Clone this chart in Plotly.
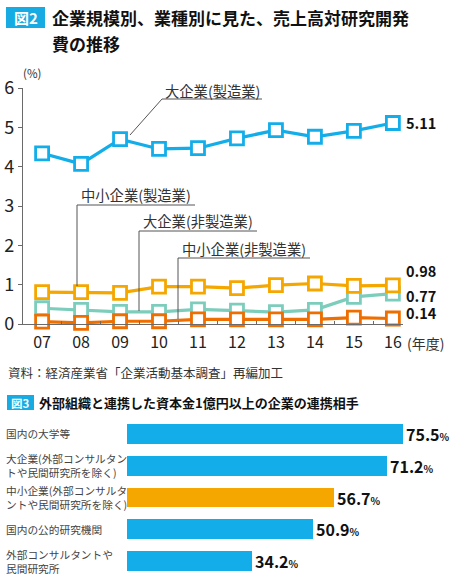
import plotly.graph_objects as go

W, H = 450, 579

# ---------------- data ----------------
years = [7, 8, 9, 10, 11, 12, 13, 14, 15, 16]
year_labels = ["07", "08", "09", "10", "11", "12", "13", "14", "15", "16"]
large_mfg = [4.34, 4.07, 4.70, 4.45, 4.47, 4.72, 4.93, 4.76, 4.91, 5.11]
sme_mfg = [0.81, 0.81, 0.79, 0.95, 0.95, 0.91, 0.99, 1.03, 0.97, 0.98]
large_nonmfg = [0.40, 0.36, 0.31, 0.31, 0.37, 0.34, 0.30, 0.36, 0.69, 0.77]
sme_nonmfg = [0.06, 0.03, 0.07, 0.07, 0.12, 0.12, 0.12, 0.12, 0.16, 0.14]
y_ticks = [0, 1, 2, 3, 4, 5, 6]

bar_cats = [
    "国内の大学等",
    "大企業(外部コンサルタン<br>トや民間研究所を除く)",
    "中小企業(外部コンサルタ<br>ントや民間研究所を除く)",
    "国内の公的研究機関",
    "外部コンサルタントや<br>民間研究所",
]
bar_vals = [75.5, 71.2, 56.7, 50.9, 34.2]

# ---------------- styles ----------------
BLUE = "#13AEEA"
YELLOW = "#F5A700"
TEAL = "#7DCDBC"
ORANGE = "#EE6E00"
AXIS = "#6a6a6a"
JP = "Noto Sans CJK JP"


def px(x):
    return x / W


def py(y):
    return 1 - y / H


fig = go.Figure()


def line_trace(vals, color, name):
    return go.Scatter(
        x=years, y=vals, mode="lines+markers", name=name,
        line=dict(color=color, width=3.2),
        marker=dict(symbol="square", size=13, color="white",
                    line=dict(color=color, width=2.8)),
        cliponaxis=False, xaxis="x", yaxis="y", showlegend=False,
    )


fig.add_trace(line_trace(large_nonmfg, TEAL, "大企業(非製造業)"))
fig.add_trace(line_trace(sme_mfg, YELLOW, "中小企業(製造業)"))
fig.add_trace(line_trace(sme_nonmfg, ORANGE, "中小企業(非製造業)"))
fig.add_trace(line_trace(large_mfg, BLUE, "大企業(製造業)"))

bar_colors = [BLUE, BLUE, YELLOW, BLUE, BLUE]
fig.add_trace(go.Bar(
    x=bar_vals, y=list(range(len(bar_vals))), orientation="h",
    width=0.62, marker=dict(color=bar_colors, line=dict(width=0)),
    text=[f"<b>{v:.1f}</b><span style='font-size:10px'><b>%</b></span>" for v in bar_vals],
    textposition="outside", textfont=dict(family=JP, size=16, color="#111"),
    cliponaxis=False, constraintext="none",
    xaxis="x2", yaxis="y2", showlegend=False,
))

annotations = []
shapes = []


def note(x, y, text, size, color="#333", xanchor="left", yref="paper"):
    annotations.append(dict(x=px(x), y=(py(y) if yref == "paper" else y),
                            xref="paper", yref=yref, xanchor=xanchor, yanchor="middle",
                            align="left", text=text, showarrow=False,
                            font=dict(family=JP, size=size, color=color)))


# header boxes
shapes.append(dict(type="rect", xref="paper", yref="paper",
                   x0=px(6), x1=px(45), y0=py(28), y1=py(7),
                   fillcolor="#16ABE3", line=dict(width=0)))
note(25.5, 17.5, "<b>図2</b>", 15, "white", xanchor="center")
note(50, 17, "<b>企業規模別、業種別に見た、売上高対研究開発</b>", 17, "#111")
note(50, 43, "<b>費の推移</b>", 17, "#111")

# units
note(21, 73, "(%)", 11.5)
note(405, 343, "(年度)", 14)

# series callout labels with leader lines
LEAD = "#555555"
callouts = [
    ("大企業(製造業)", 163, 90, [(162, 99, 262, 99), (162, 99, 130, 135)]),
    ("中小企業(製造業)", 79, 195, [(77, 205, 195, 205), (77, 205, 77, 286)]),
    ("大企業(非製造業)", 141, 221, [(139, 231, 257, 231), (139, 231, 139, 311)]),
    ("中小企業(非製造業)", 180, 248, [(178, 258, 310, 258), (178, 258, 178, 319)]),
]
for text, tx, ty, segs in callouts:
    note(tx, ty, text, 14.3)
    for x0, y0, x1, y1 in segs:
        shapes.append(dict(type="line", xref="paper", yref="paper",
                           x0=px(x0), y0=py(y0), x1=px(x1), y1=py(y1),
                           line=dict(color=LEAD, width=1)))

# end value labels
end_labels = [(large_mfg[-1], 123), (sme_mfg[-1], 270), (large_nonmfg[-1], 295), (sme_nonmfg[-1], 312)]
for v, yy in end_labels:
    note(404, yy, f"<b>{v:.2f}</b>", 14.5, "#111")

# source
note(6, 372, "資料：経済産業省「企業活動基本調査」再編加工", 12.5)

# figure 3 header
shapes.append(dict(type="rect", xref="paper", yref="paper",
                   x0=px(7), x1=px(34), y0=py(410), y1=py(395),
                   fillcolor="#16ABE3", line=dict(width=0)))
note(20.5, 402.5, "<b>図3</b>", 11.5, "white", xanchor="center")
note(37, 402, "<b>外部組織と連携した資本金1億円以上の企業の連携相手</b>", 13, "#111")

# bar category labels
for i, c in enumerate(bar_cats):
    note(4, i, c, 10.7, "#444", yref="y2")

fig.update_layout(
    template="none",
    width=W, height=H, margin=dict(l=0, r=0, t=0, b=0, pad=0, autoexpand=False),
    paper_bgcolor="white", plot_bgcolor="rgba(0,0,0,0)",
    font=dict(family=JP, color="#222"),
    xaxis=dict(domain=[px(23), px(403)], range=[6.51, 16.26], anchor="y",
               tickvals=years, ticktext=year_labels, ticks="", automargin=False,
               showline=True, linecolor=AXIS, linewidth=1.3, showgrid=False, zeroline=False,
               tickfont=dict(family=JP, size=16, color="#222"), ticklabelstandoff=4,
               minor=dict(tickvals=[y + 0.5 for y in years[:-1]], ticks="inside",
                          ticklen=3, tickcolor=AXIS, tickwidth=1, showgrid=False)),
    yaxis=dict(domain=[py(324), py(88)], range=[0, 6], anchor="x", automargin=False,
               tickvals=y_ticks, ticks="outside", ticklen=4, tickcolor=AXIS,
               showline=True, linecolor=AXIS, linewidth=1.3, showgrid=False, zeroline=False,
               tickfont=dict(family=JP, size=18, color="#222")),
    xaxis2=dict(domain=[px(127), 1], range=[0, 88.3], anchor="y2", visible=False,
                automargin=False),
    yaxis2=dict(domain=[py(577), py(418)], range=[4.5, -0.5], anchor="x2", visible=False,
                automargin=False),
    annotations=annotations, shapes=shapes, bargap=0,
)

fig.write_html("out.html", config={"displayModeBar": False},
               post_script="document.body.style.margin='0';")
